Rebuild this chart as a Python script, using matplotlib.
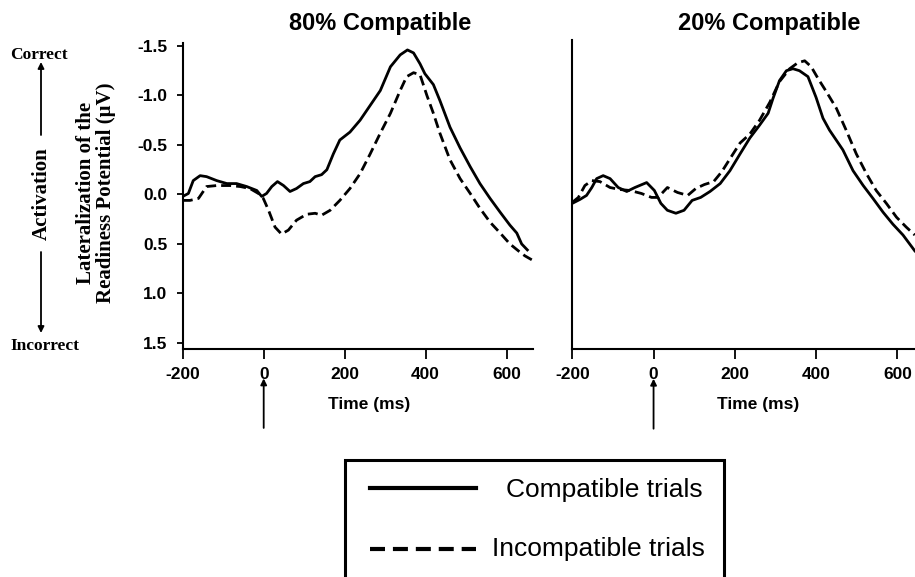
import matplotlib.pyplot as plt
from matplotlib.patches import Rectangle
from matplotlib.lines import Line2D

# 80% compatible block
t_comp80 = [-200, -186, -174, -157, -141, -116, -91, -67, -42, -17, -5, 7, 20, 34, 49, 65, 81, 98, 114,
            127, 143, 156, 172, 188, 213, 238, 263, 288, 313, 337, 355, 370, 386, 398, 419, 435, 460,
            485, 510, 534, 559, 584, 608, 625, 637, 651]
v_comp80 = [0.02, -0.01, -0.14, -0.19, -0.18, -0.14, -0.11, -0.11, -0.08, -0.04, 0.02, -0.01, -0.08,
            -0.13, -0.09, -0.03, -0.06, -0.11, -0.13, -0.18, -0.20, -0.25, -0.41, -0.55, -0.63, -0.75,
            -0.90, -1.05, -1.29, -1.41, -1.46, -1.43, -1.32, -1.22, -1.11, -0.95, -0.68, -0.47, -0.28,
            -0.11, 0.04, 0.18, 0.31, 0.39, 0.50, 0.56]
t_inc80 = [-200, -182, -161, -141, -116, -83, -58, -34, -13, -1, 12, 28, 44, 61, 81, 106, 127, 143, 164,
           188, 213, 238, 263, 288, 313, 337, 353, 370, 386, 403, 419, 435, 460, 485, 510, 534, 559,
           584, 608, 629, 645, 662]
v_inc80 = [0.06, 0.06, 0.04, -0.08, -0.09, -0.09, -0.08, -0.06, -0.01, 0.04, 0.16, 0.33, 0.40, 0.36,
           0.26, 0.20, 0.19, 0.21, 0.16, 0.06, -0.06, -0.21, -0.41, -0.62, -0.82, -1.05, -1.19, -1.23,
           -1.21, -1.00, -0.82, -0.62, -0.35, -0.16, -0.01, 0.14, 0.28, 0.39, 0.50, 0.57, 0.62, 0.66]

# 20% compatible block
t_comp20 = [-200, -181, -165, -152, -140, -124, -107, -87, -66, -46, -17, 2, 18, 34, 55, 75, 95, 116,
            139, 164, 188, 213, 237, 261, 282, 294, 310, 327, 343, 359, 380, 400, 417, 433, 466, 491,
            516, 540, 565, 589, 614, 643]
v_comp20 = [0.09, 0.05, 0.01, -0.07, -0.16, -0.19, -0.16, -0.07, -0.03, -0.07, -0.12, -0.04, 0.09,
            0.16, 0.19, 0.16, 0.06, 0.03, -0.03, -0.11, -0.24, -0.41, -0.57, -0.70, -0.82, -0.97,
            -1.15, -1.25, -1.27, -1.25, -1.19, -0.98, -0.77, -0.65, -0.45, -0.24, -0.09, 0.04, 0.18,
            0.30, 0.41, 0.57]
t_inc20 = [-200, -185, -169, -152, -132, -107, -83, -58, -30, -5, 11, 34, 59, 84, 104, 125, 148, 168,
           188, 213, 237, 261, 286, 310, 335, 355, 372, 388, 405, 425, 450, 474, 499, 524, 548, 573,
           598, 622, 643]
v_inc20 = [0.08, 0.03, -0.09, -0.14, -0.13, -0.07, -0.05, -0.04, -0.01, 0.03, 0.03, -0.07, -0.02, 0.01,
           -0.06, -0.10, -0.13, -0.23, -0.36, -0.52, -0.61, -0.75, -0.93, -1.14, -1.27, -1.33, -1.35,
           -1.29, -1.17, -1.04, -0.87, -0.65, -0.41, -0.21, -0.04, 0.09, 0.23, 0.33, 0.41]

x_ticks = [-200, 0, 200, 400, 600]
x_labels = ['-200', '0', '200', '400', '600']
y_ticks = [-1.5, -1.0, -0.5, 0.0, 0.5, 1.0, 1.5]
y_labels = ['-1.5', '-1.0', '-0.5', '0.0', '0.5', '1.0', '1.5']

W, H = 915, 577
SANS = 'Liberation Sans'
SERIF = 'Liberation Serif'
DASH = (0, (3.6, 1.8))


def fx(px):
    return px / W


def fy(py):
    return 1 - py / H


fig = plt.figure(figsize=(W / 100, H / 100), dpi=100)

ax1 = fig.add_axes([fx(182.7), fy(348.5), 350.3 / W, (348.5 - 43) / H])
ax2 = fig.add_axes([fx(572.3), fy(348.5), (W - 572.3) / W, (348.5 - 40) / H])

panels = [
    (ax1, t_comp80, v_comp80, t_inc80, v_inc80, (-200, 665), (1.556, -1.53), '80% Compatible', 380, 0.532),
    (ax2, t_comp20, v_comp20, t_inc20, v_inc20, (-200, 643.5), (1.556, -1.56), '20% Compatible', 769, 0.542),
]

for ax, tc, vc, ti, vi, xl, yl, title, title_x, lab_x in panels:
    ax.plot(tc, vc, color='black', lw=2.0, solid_joinstyle='round')
    ax.plot(ti, vi, color='black', lw=2.0, linestyle=DASH)
    ax.set_xlim(*xl)
    ax.set_ylim(*yl)
    for side in ['top', 'right']:
        ax.spines[side].set_visible(False)
    for side in ['left', 'bottom']:
        ax.spines[side].set_linewidth(1.5)
    ax.set_xticks(x_ticks)
    ax.set_xticklabels(x_labels, fontsize=12.5, fontweight='bold', family=SANS)
    ax.tick_params(axis='x', length=7, width=1.3, pad=6)
    ax.set_xlabel('Time (ms)', fontsize=12.5, fontweight='bold', family=SANS)
    ax.xaxis.set_label_coords(lab_x, -0.158)
    fig.text(fx(title_x), fy(30), title, ha='center', va='baseline',
             fontsize=17, fontweight='bold', family=SANS)
    # stimulus onset arrow under the zero tick
    ax.annotate('', xy=(0, -0.098), xytext=(0, -0.26),
                xycoords=('data', 'axes fraction'), textcoords=('data', 'axes fraction'),
                annotation_clip=False,
                arrowprops=dict(arrowstyle='-|>', color='black', lw=1.3, mutation_scale=9,
                                shrinkA=0, shrinkB=0))

ax1.set_yticks(y_ticks)
ax1.set_yticklabels(y_labels, fontsize=12.5, fontweight='bold', family=SANS)
ax1.tick_params(axis='y', length=4.5, width=1.3, pad=6.5)
ax2.tick_params(axis='y', left=False, labelleft=False)

# left-hand annotations
fig.text(fx(39), fy(59), 'Correct', ha='center', va='baseline',
         fontsize=12.5, fontweight='bold', family=SERIF)
fig.text(fx(45), fy(350), 'Incorrect', ha='center', va='baseline',
         fontsize=12.5, fontweight='bold', family=SERIF)
fig.text(fx(42), fy(194), 'Activation', ha='center', va='center', rotation=90,
         fontsize=15, fontweight='bold', family=SERIF)
fig.text(fx(96), fy(193), 'Lateralization of the\nReadiness Potential (\u03bcV)', ha='center',
         va='center', rotation=90, multialignment='center', linespacing=1.0,
         fontsize=15, fontweight='bold', family=SERIF)
ax1.annotate('', xy=(fx(41), fy(62)), xytext=(fx(41), fy(135)), xycoords='figure fraction',
             arrowprops=dict(arrowstyle='-|>', color='black', lw=1.3, mutation_scale=9,
                             shrinkA=0, shrinkB=0))
ax1.annotate('', xy=(fx(41), fy(333)), xytext=(fx(41), fy(252)), xycoords='figure fraction',
             arrowprops=dict(arrowstyle='-|>', color='black', lw=1.3, mutation_scale=9,
                             shrinkA=0, shrinkB=0))

# legend box (cut off by the bottom edge)
fig.add_artist(Rectangle((fx(345), -0.05), (724 - 345) / W, fy(460) + 0.05, transform=fig.transFigure,
                         fill=False, edgecolor='black', lw=2.2))
fig.add_artist(Line2D([fx(370), fx(476)], [fy(488), fy(488)], transform=fig.transFigure,
                      color='black', lw=3))
fig.add_artist(Line2D([fx(370), fx(476)], [fy(549), fy(549)], transform=fig.transFigure,
                      color='black', lw=3, linestyle=(0, (3.6, 1.9))))
fig.text(fx(703), fy(490), 'Compatible trials', ha='right', va='center', fontsize=19, family=SANS)
fig.text(fx(705), fy(549), 'Incompatible trials', ha='right', va='center', fontsize=19, family=SANS)

fig.savefig('out.png', dpi=100)
